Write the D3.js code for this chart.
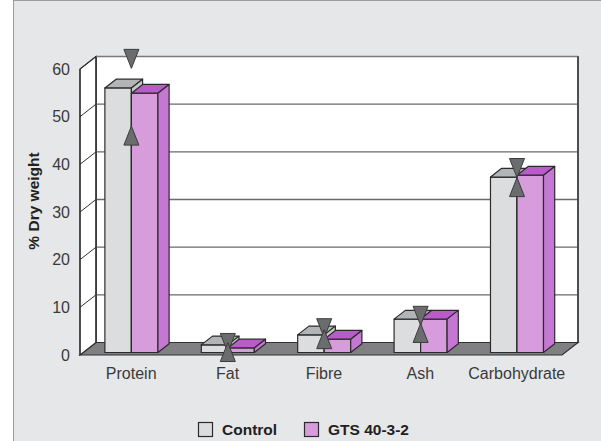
<!DOCTYPE html>
<html>
<head>
<meta charset="utf-8">
<script src="https://cdn.jsdelivr.net/npm/d3@7"></script>
<style>
  html, body { margin: 0; padding: 0; background: #ffffff; }
  svg { display: block; }
  text { font-family: "Liberation Sans", Arial, sans-serif; }
</style>
</head>
<body>
<svg id="chart" width="601" height="441"></svg>
<script>
// Composition of soybean seed, % of dry weight
const categories = ["Protein", "Fat", "Fibre", "Ash", "Carbohydrate"];
const seriesNames = ["Control", "GTS 40-3-2"];
const control = [55.5, 1.6, 3.7, 7.0, 36.8];
const gts = [54.4, 0.95, 2.8, 7.0, 37.2];
// reference range markers (upper ▼, lower ▲)
const rangeHigh = [61.6, 2.0, 5.1, 7.7, 38.7];
const rangeLow = [45.5, 0.1, 2.8, 4.1, 34.7];
const yTicks = [0, 10, 20, 30, 40, 50, 60];

const W = 601, H = 441;
const svg = d3.select("#chart");

// panel background
svg.append("rect").attr("x", 0).attr("y", 0).attr("width", W).attr("height", H).attr("fill", "#ffffff");
svg.append("rect").attr("x", 13.5).attr("y", 0.5).attr("width", W).attr("height", H + 2)
  .attr("fill", "#e6e7e8").attr("stroke", "#9b9c9e").attr("stroke-width", 1);

// front-plane scales
const x = d3.scaleBand().domain(categories).range([80, 562]).paddingInner(0).paddingOuter(0);
const y = d3.scaleLinear().domain([0, 60]).range([355, 69]);

// depth vector of the 3-D box
const DX = 16, DY = -12.5;
const P = (px, py, t) => [px + t * DX, py + t * DY];
const poly = pts => pts.map(p => p.join(",")).join(" ");

const x0 = x.range()[0], x1 = x.range()[1];
const yb = y(0), yt = y(60);

// floor
svg.append("polygon")
  .attr("points", poly([P(x0, yb, 0), P(x1, yb, 0), P(x1, yb, 1), P(x0, yb, 1)]))
  .attr("fill", "#808082").attr("stroke", "#303030").attr("stroke-width", 1.2);

// back wall
svg.append("polygon")
  .attr("points", poly([P(x0, yt, 1), P(x1, yt, 1), P(x1, yb, 1), P(x0, yb, 1)]))
  .attr("fill", "#ffffff").attr("stroke", "#303030").attr("stroke-width", 1.2);

// side wall
svg.append("polygon")
  .attr("points", poly([P(x0, yt, 0), P(x0, yt, 1), P(x0, yb, 1), P(x0, yb, 0)]))
  .attr("fill", "#ffffff").attr("stroke", "#303030").attr("stroke-width", 1.2);

// gridlines on back wall and side wall
yTicks.filter(v => v > 0).forEach(v => {
  const a = P(x0, y(v), 1), b = P(x1, y(v), 1);
  svg.append("line").attr("x1", a[0]).attr("y1", a[1]).attr("x2", b[0]).attr("y2", b[1])
    .attr("stroke", v === 60 ? "#7a7a7a" : "#6a6a6a").attr("stroke-width", 1.4);
  const c = P(x0, y(v), 0);
  svg.append("line").attr("x1", c[0]).attr("y1", c[1]).attr("x2", a[0]).attr("y2", a[1])
    .attr("stroke", "#303030").attr("stroke-width", 1);
});
// redraw back-wall left/right edges and floor-wall joint
svg.append("line").attr("x1", P(x0, yt, 1)[0]).attr("y1", P(x0, yt, 1)[1])
  .attr("x2", P(x0, yb, 1)[0]).attr("y2", P(x0, yb, 1)[1]).attr("stroke", "#303030").attr("stroke-width", 1.2);
svg.append("line").attr("x1", P(x1, yt, 1)[0]).attr("y1", P(x1, yt, 1)[1])
  .attr("x2", P(x1, yb, 1)[0]).attr("y2", P(x1, yb, 1)[1]).attr("stroke", "#303030").attr("stroke-width", 1.2);
// value axis line
svg.append("line").attr("x1", x0).attr("y1", yt).attr("x2", x0).attr("y2", yb)
  .attr("stroke", "#303030").attr("stroke-width", 1.2);

// y tick labels
svg.append("g").selectAll("text").data(yTicks).join("text")
  .attr("x", 70).attr("y", d => y(d)).attr("dy", "0.36em")
  .attr("text-anchor", "end").attr("font-size", 16).attr("fill", "#3a3a3a")
  .text(d => d);

// y axis title
svg.append("text")
  .attr("transform", "translate(39,201) rotate(-90)")
  .attr("text-anchor", "middle").attr("font-size", 15.5).attr("font-weight", "bold").attr("fill", "#231f20")
  .text("% Dry weight");

// category labels
svg.append("g").selectAll("text").data(categories).join("text")
  .attr("x", d => x(d) + x.bandwidth() / 2 + 3)
  .attr("y", 379)
  .attr("text-anchor", "middle").attr("font-size", 16).attr("fill", "#3a3a3a")
  .text(d => d);

// bars
const t0 = 0.2, t1 = 0.9;
const barW = x.bandwidth() * 0.275;
const styles = [
  { front: "#dcdddf", top: "#b3b4b6", side: "#c6c7c9" },
  { front: "#d69cdc", top: "#b95bc8", side: "#c578d2" }
];
const series = [control, gts];
const gBars = svg.append("g").attr("stroke", "#2b2b2b").attr("stroke-width", 1.2).attr("stroke-linejoin", "round");

categories.forEach((cat, i) => {
  const cx = x(cat) + x.bandwidth() / 2;
  series.forEach((vals, s) => {
    const bx0 = s === 0 ? cx - barW : cx;
    const bx1 = bx0 + barW;
    const ytop = y(vals[i]);
    // front face
    gBars.append("polygon")
      .attr("points", poly([P(bx0, ytop, t0), P(bx1, ytop, t0), P(bx1, yb, t0), P(bx0, yb, t0)]))
      .attr("fill", styles[s].front);
    // top face
    gBars.append("polygon")
      .attr("points", poly([P(bx0, ytop, t0), P(bx1, ytop, t0), P(bx1, ytop, t1), P(bx0, ytop, t1)]))
      .attr("fill", styles[s].top);
    // side face
    gBars.append("polygon")
      .attr("points", poly([P(bx1, ytop, t0), P(bx1, yb, t0), P(bx1, yb, t1), P(bx1, ytop, t1)]))
      .attr("fill", styles[s].side);
  });
});

// range markers
const mw = 15, mh = 19;
const gMarks = svg.append("g").attr("fill", "#6b6c6e").attr("stroke", "#3c3c3c").attr("stroke-width", 1);
categories.forEach((cat, i) => {
  const base = P(x(cat) + x.bandwidth() / 2, 0, t0);
  const mx = base[0];
  const hy = y(rangeHigh[i]) + base[1];
  const ly = y(rangeLow[i]) + base[1];
  gMarks.append("polygon")
    .attr("points", poly([[mx - mw / 2, hy - mh / 2], [mx + mw / 2, hy - mh / 2], [mx, hy + mh / 2]]));
  gMarks.append("polygon")
    .attr("points", poly([[mx - mw / 2, ly + mh / 2], [mx + mw / 2, ly + mh / 2], [mx, ly - mh / 2]]));
});

// legend
const legendX = [198, 304];
const legend = svg.append("g");
seriesNames.forEach((name, s) => {
  legend.append("rect").attr("x", legendX[s] + 0.5).attr("y", 422.5).attr("width", 14).attr("height", 14)
    .attr("fill", styles[s].front).attr("stroke", "#2b2b2b").attr("stroke-width", 1.2);
  legend.append("text").attr("x", legendX[s] + 24).attr("y", 435)
    .attr("font-size", 15.5).attr("font-weight", "bold").attr("fill", "#231f20")
    .text(name);
});
</script>
</body>
</html>
